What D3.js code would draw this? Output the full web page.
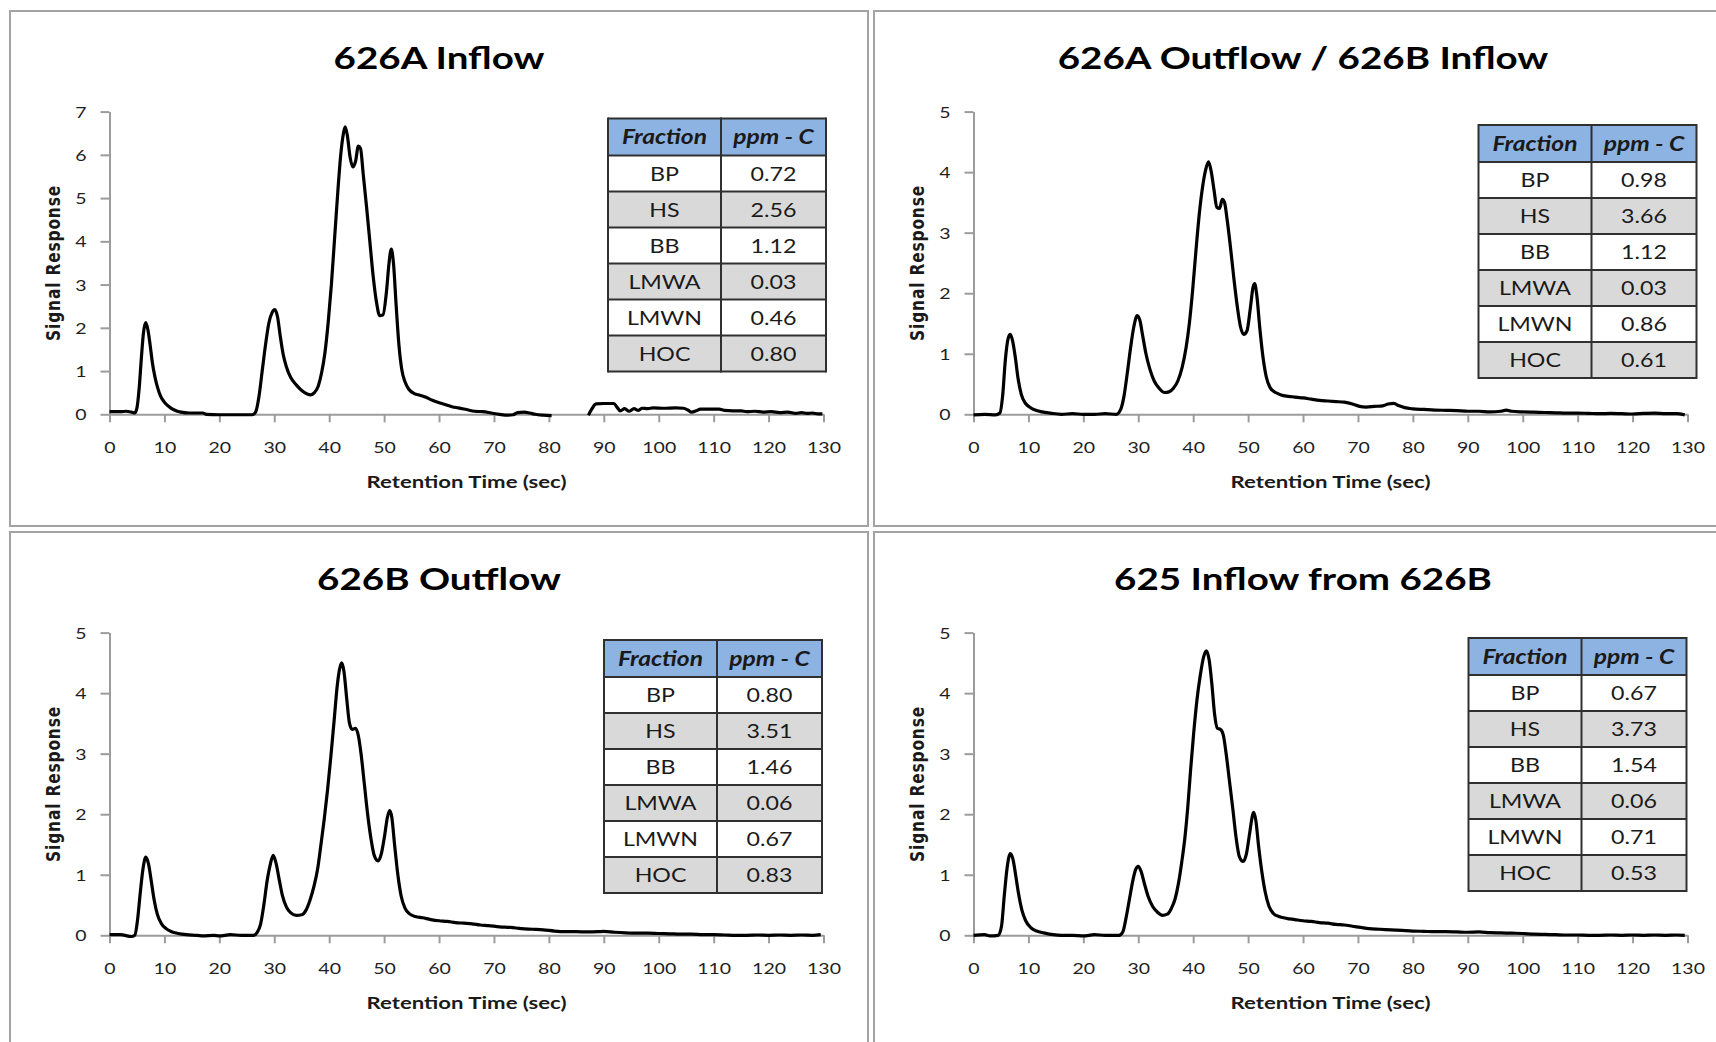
<!DOCTYPE html>
<html>
<head>
<meta charset="utf-8">
<script src="https://cdn.jsdelivr.net/npm/d3@7"></script>
<style>
  html, body { margin: 0; padding: 0; background: #fff; }
  svg { display: block; }
</style>
</head>
<body>
<svg id="chart" width="1716" height="1042"></svg>
<script>
// ---- Chromatogram traces: [retention time (sec), signal response] ----
// null marks a break in the recorded trace.
const inflow626A = [
  [0,0.06],[1,0.06],[2,0.06],[3,0.07],[4,0.05],[4.6,0.03],[5,0.15],[5.4,0.6],[5.8,1.3],[6.2,1.9],
  [6.6,2.12],[7.0,1.95],[7.4,1.6],[7.8,1.2],[8.3,0.85],[8.8,0.6],[9.3,0.42],[10,0.28],[10.8,0.18],
  [11.8,0.1],[13,0.05],[14.5,0.03],[17,0.03],[17.6,0.0],[20,-0.01],[23,-0.01],[26,-0.01],[26.6,0.05],
  [27.2,0.4],[27.8,1.0],[28.4,1.6],[29.0,2.1],[29.6,2.35],[30.1,2.42],[30.6,2.25],[31.1,1.8],[31.6,1.4],
  [32.2,1.1],[33,0.85],[34,0.68],[35,0.55],[36,0.47],[36.6,0.45],[37.3,0.5],[38,0.65],[38.6,0.95],
  [39.2,1.4],[39.8,2.1],[40.4,3.0],[41,4.1],[41.6,5.2],[42.1,6.0],[42.6,6.5],[42.9,6.65],[43.3,6.45],
  [43.8,5.95],[44.3,5.72],[44.8,5.85],[45.3,6.2],[45.7,6.15],[46.2,5.55],[46.8,4.8],[47.4,4.0],[48,3.2],
  [48.6,2.6],[49.2,2.28],[49.8,2.3],[50.4,2.8],[50.9,3.5],[51.3,3.82],[51.7,3.5],[52.2,2.5],[52.7,1.6],
  [53.2,1.05],[53.8,0.75],[54.5,0.58],[55.5,0.48],[56.5,0.44],[57.5,0.4],[58.5,0.34],[59.5,0.29],
  [60.5,0.25],[61.5,0.21],[62.5,0.17],[63.5,0.15],[65,0.11],[66.5,0.07],[68,0.06],[69.5,0.03],[71,0.0],
  [72.5,-0.02],[73.5,-0.01],[74.3,0.04],[75.5,0.05],[76.5,0.03],[77.5,0.0],[79,-0.02],[80.5,-0.03],
  [84,null],
  [87.2,-0.02],[87.8,0.12],[88.6,0.24],[90,0.25],[91.8,0.25],[92.5,0.15],[93,0.08],[93.8,0.13],
  [94.6,0.07],[95.5,0.13],[96.3,0.09],[97,0.14],[98,0.13],[99,0.15],[101,0.14],[103,0.15],[104.5,0.14],
  [105.3,0.1],[106,0.05],[106.8,0.08],[107.6,0.12],[109,0.12],[111,0.12],[112,0.09],[113.5,0.08],
  [115,0.08],[116,0.06],[117.5,0.07],[119,0.05],[120.5,0.06],[122,0.04],[123.5,0.05],[125,0.02],
  [126,0.04],[127,0.02],[128,0.03],[129,0.01],[129.8,0.01]
];

const outflow626A = [
  [0,-0.01],[2,0.0],[4,-0.01],[4.8,0.02],[5.3,0.3],[5.8,0.9],[6.3,1.25],[6.7,1.32],[7.1,1.22],[7.6,0.95],
  [8.1,0.6],[8.7,0.33],[9.4,0.19],[10.2,0.12],[11.2,0.07],[12.5,0.04],[14,0.02],[16,0.0],[18,0.01],
  [20,0.0],[22,0.0],[24,0.01],[26,0.0],[26.8,0.08],[27.4,0.3],[28,0.68],[28.6,1.1],[29.2,1.45],
  [29.8,1.63],[30.3,1.55],[30.8,1.3],[31.4,1.0],[32.1,0.75],[32.9,0.55],[33.8,0.43],[34.8,0.36],
  [35.6,0.37],[36.4,0.43],[37.2,0.55],[38,0.78],[38.7,1.1],[39.3,1.5],[39.9,2.05],[40.5,2.7],[41.1,3.3],
  [41.7,3.75],[42.3,4.05],[42.8,4.17],[43.3,4.0],[43.8,3.7],[44.3,3.42],[44.8,3.4],[45.3,3.55],
  [45.7,3.5],[46.2,3.2],[46.8,2.75],[47.4,2.25],[48,1.8],[48.6,1.45],[49.2,1.32],[49.8,1.38],[50.4,1.75],
  [50.9,2.1],[51.2,2.16],[51.6,1.95],[52.1,1.45],[52.7,0.95],[53.3,0.62],[54,0.44],[55,0.36],[56,0.32],
  [57,0.3],[58,0.29],[59,0.28],[60,0.27],[61.5,0.25],[63,0.23],[64.5,0.22],[66,0.21],[67.5,0.2],
  [69,0.17],[70.3,0.13],[71.5,0.12],[73,0.13],[74.5,0.14],[75.5,0.17],[76.5,0.18],[77.5,0.14],
  [78.5,0.11],[80,0.09],[82,0.08],[84,0.07],[86,0.065],[88,0.06],[90,0.05],[92,0.05],[94,0.04],
  [96,0.05],[97,0.07],[98,0.05],[100,0.04],[102,0.035],[104,0.03],[106,0.025],[108,0.02],[110,0.02],
  [112,0.015],[114,0.01],[116,0.015],[118,0.01],[120,0.005],[122,0.015],[124,0.02],[126,0.01],
  [128,0.01],[129.5,-0.01]
];

const outflow626B = [
  [0,0.01],[2,0.01],[4,-0.02],[4.6,0.0],[5.1,0.25],[5.6,0.7],[6.1,1.1],[6.6,1.29],[7.1,1.18],[7.6,0.9],
  [8.1,0.6],[8.7,0.35],[9.4,0.2],[10.3,0.11],[11.3,0.06],[12.5,0.03],[14,0.01],[16,0.0],[17,-0.01],
  [19,0.0],[20,-0.01],[22,0.01],[24,0.0],[26.2,0.0],[26.9,0.05],[27.5,0.18],[28.1,0.5],[28.7,0.9],
  [29.3,1.18],[29.8,1.32],[30.3,1.2],[30.9,0.92],[31.5,0.65],[32.2,0.47],[33,0.37],[34,0.33],[35,0.34],
  [35.8,0.42],[36.5,0.58],[37.2,0.8],[37.9,1.1],[38.5,1.5],[39.1,1.92],[39.7,2.4],[40.3,2.95],
  [40.9,3.55],[41.5,4.15],[41.9,4.4],[42.3,4.5],[42.7,4.35],[43.2,3.9],[43.7,3.5],[44.2,3.4],
  [44.8,3.42],[45.3,3.3],[45.8,3.0],[46.4,2.5],[47,2.0],[47.6,1.6],[48.2,1.32],[48.9,1.23],[49.5,1.35],
  [50.1,1.65],[50.6,1.95],[51,2.06],[51.4,1.95],[51.9,1.5],[52.5,1.0],[53.1,0.65],[53.8,0.45],
  [54.7,0.35],[55.7,0.31],[57,0.29],[58.5,0.26],[60,0.24],[61.5,0.23],[63,0.21],[64.5,0.2],[66,0.19],
  [67.5,0.17],[69,0.16],[71,0.14],[73,0.13],[75,0.11],[77,0.1],[79,0.09],[81,0.07],[83,0.06],
  [85,0.06],[87,0.055],[89,0.06],[90,0.065],[92,0.05],[94,0.04],[96,0.035],[98,0.035],[100,0.03],
  [102,0.025],[104,0.02],[106,0.02],[108,0.01],[110,0.01],[112,0.005],[114,0.0],[116,0.0],[118,0.005],
  [120,0.0],[122,0.005],[124,0.0],[126,0.005],[128,0.0],[129.5,0.01]
];

const inflow625 = [
  [0,0.0],[2,0.01],[3,-0.01],[4.5,0.0],[5.1,0.15],[5.6,0.65],[6.1,1.1],[6.7,1.35],[7.2,1.25],[7.7,0.98],
  [8.2,0.69],[8.8,0.42],[9.5,0.24],[10.5,0.12],[11.5,0.07],[12.8,0.04],[14.5,0.01],[16,0.0],[18,0.0],
  [20,-0.01],[22,0.01],[24,0.0],[26.5,0.0],[27.2,0.06],[27.8,0.3],[28.4,0.6],[29,0.9],[29.5,1.08],
  [30,1.14],[30.5,1.06],[31.1,0.86],[31.8,0.64],[32.6,0.48],[33.5,0.38],[34.4,0.33],[35.3,0.35],
  [36,0.44],[36.7,0.6],[37.3,0.85],[37.9,1.2],[38.5,1.62],[39,2.1],[39.5,2.7],[40.1,3.35],[40.7,3.9],
  [41.3,4.3],[41.9,4.6],[42.4,4.7],[42.9,4.55],[43.4,4.15],[43.9,3.65],[44.4,3.42],[45,3.4],[45.5,3.3],
  [46,3.0],[46.6,2.55],[47.2,2.1],[47.8,1.62],[48.4,1.3],[49.1,1.22],[49.7,1.35],[50.3,1.7],[50.8,1.98],
  [51,2.03],[51.4,1.9],[51.9,1.48],[52.5,1.05],[53.1,0.72],[53.8,0.48],[54.6,0.36],[55.6,0.31],
  [57,0.28],[58.5,0.26],[60,0.24],[61.5,0.23],[63,0.21],[64.5,0.2],[66,0.18],[67.5,0.17],[69,0.15],
  [70.5,0.13],[72,0.11],[74,0.1],[76,0.09],[78,0.08],[80,0.07],[82,0.065],[84,0.06],[86,0.06],
  [88,0.055],[90,0.05],[92,0.055],[94,0.045],[96,0.04],[98,0.035],[100,0.03],[102,0.02],[104,0.015],
  [106,0.01],[108,0.005],[110,0.005],[112,0.0],[114,0.0],[116,0.005],[118,0.0],[120,0.005],[122,0.0],
  [124,0.005],[126,0.0],[128,0.005],[129.5,0.0]
];

// ---- Fraction tables (ppm - C) ----
const fractions = ["BP", "HS", "BB", "LMWA", "LMWN", "HOC"];
const ppmInflow626A  = ["0.72", "2.56", "1.12", "0.03", "0.46", "0.80"];
const ppmOutflow626A = ["0.98", "3.66", "1.12", "0.03", "0.86", "0.61"];
const ppmOutflow626B = ["0.80", "3.51", "1.46", "0.06", "0.67", "0.83"];
const ppmInflow625   = ["0.67", "3.73", "1.54", "0.06", "0.71", "0.53"];

const titles = ["626A Inflow", "626A Outflow / 626B Inflow", "626B Outflow", "625 Inflow from 626B"];
const yMaxima = [7, 5, 5, 5];
const xTickValues = d3.range(0, 131, 10);
const xLabel = "Retention Time (sec)";
const yLabel = "Signal Response";
const tableHeader = ["Fraction", "ppm - C"];

// ---- Layout ----
const panelOrigins = [[10, 11], [874, 11], [10, 532], [874, 532]];
const tableOrigins = [[598, 107.5], [604.5, 114], [594, 108], [594.5, 106]];
const PANEL_W = 858, PANEL_H = 515;
const plot = { left: 99.5, right: 813.5, top: 100.6, bottom: 403.3 };
const SX = 1.26;           // horizontal stretch applied to all lettering
const colW = [113, 105], headH = 37, rowH = 36;

const series = [inflow626A, outflow626A, outflow626B, inflow625];
const ppm = [ppmInflow626A, ppmOutflow626A, ppmOutflow626B, ppmInflow625];

const svg = d3.select("#chart");
svg.append("rect").attr("width", 1716).attr("height", 1042).attr("fill", "#fff");

function stretched(sel, x, y, sx) {
  return sel.attr("transform", `translate(${x},${y}) scale(${sx},1)`);
}

titles.forEach((title, i) => {
  const [ox, oy] = panelOrigins[i];
  const g = svg.append("g").attr("transform", `translate(${ox},${oy})`);

  // panel frame
  g.append("rect")
    .attr("x", 0).attr("y", 0).attr("width", PANEL_W).attr("height", PANEL_H)
    .attr("fill", "#fff").attr("stroke", "#a3a3a3").attr("stroke-width", 2);

  const x = d3.scaleLinear().domain([0, 130]).range([plot.left, plot.right]);
  const y = d3.scaleLinear().domain([0, yMaxima[i]]).range([plot.bottom, plot.top]);

  // title
  stretched(g.append("text"), PANEL_W / 2, 58, SX)
    .attr("text-anchor", "middle")
    .attr("font-family", "Lato, 'Open Sans', sans-serif")
    .attr("font-weight", 700).attr("font-size", 30.6)
    .attr("fill", "#000")
    .text(title);

  // axes
  const xAxis = d3.axisBottom(x).tickValues(xTickValues).tickSizeInner(8).tickSizeOuter(0).tickPadding(0);
  const yAxis = d3.axisLeft(y).ticks(yMaxima[i]).tickFormat(d3.format("d")).tickSizeInner(9).tickSizeOuter(0);

  const gx = g.append("g").attr("transform", `translate(0,${plot.bottom})`).call(xAxis);
  const gy = g.append("g").attr("transform", `translate(${plot.left},0)`).call(yAxis);

  [gx, gy].forEach(ax => {
    ax.select(".domain").attr("stroke", "#9c9c9c").attr("stroke-width", 2);
    ax.selectAll(".tick line").attr("stroke", "#9c9c9c").attr("stroke-width", 2);
    ax.selectAll(".tick text")
      .attr("font-family", "Lato, 'Open Sans', sans-serif")
      .attr("font-size", 15.5).attr("fill", "#1f1f1f");
  });
  gx.selectAll(".tick text")
    .attr("y", 0).attr("dy", 0)
    .attr("transform", `translate(0,38.8) scale(${SX},1)`);
  gy.selectAll(".tick text")
    .attr("x", 0).attr("dy", "0.36em")
    .attr("transform", `translate(-23,0) scale(${SX},1)`);

  // axis titles
  stretched(g.append("text"), (plot.left + plot.right) / 2, 477, SX)
    .attr("text-anchor", "middle")
    .attr("font-family", "Lato, 'Open Sans', sans-serif")
    .attr("font-weight", 700).attr("font-size", 17.6).attr("fill", "#1a1a1a")
    .text(xLabel);

  g.append("text")
    .attr("transform", `translate(50,${(plot.top + plot.bottom) / 2}) scale(${SX},1) rotate(-90)`)
    .attr("text-anchor", "middle")
    .attr("font-family", "'DejaVu Sans', sans-serif")
    .attr("font-weight", 700).attr("font-size", 15.5).attr("letter-spacing", 0.8)
    .attr("fill", "#1a1a1a")
    .text(yLabel);

  // trace
  const line = d3.line()
    .defined(d => d[1] !== null)
    .x(d => x(d[0])).y(d => y(d[1]))
    .curve(d3.curveMonotoneX);
  g.append("path")
    .datum(series[i])
    .attr("d", line)
    .attr("fill", "none").attr("stroke", "#000")
    .attr("stroke-width", 3.2).attr("stroke-linejoin", "round");

  // fraction table
  const [tx, ty] = tableOrigins[i];
  const tg = g.append("g").attr("transform", `translate(${tx},${ty})`);
  const totalW = colW[0] + colW[1];
  const rows = fractions.map((f, r) => [f, ppm[i][r]]);

  tg.append("rect").attr("x", 0).attr("y", 0).attr("width", totalW).attr("height", headH)
    .attr("fill", "#8db3e2");
  rows.forEach((row, r) => {
    tg.append("rect")
      .attr("x", 0).attr("y", headH + r * rowH).attr("width", totalW).attr("height", rowH)
      .attr("fill", r % 2 === 0 ? "#ffffff" : "#d9d9d9");
  });

  const cellCx = [colW[0] / 2, colW[0] + colW[1] / 2];
  tableHeader.forEach((h, c) => {
    stretched(tg.append("text"), cellCx[c], headH / 2 + 7.2, 1.2)
      .attr("text-anchor", "middle")
      .attr("font-family", "Lato, 'Open Sans', sans-serif")
      .attr("font-weight", 700).attr("font-style", "italic").attr("font-size", 20.5)
      .attr("fill", "#1a1a1a")
      .text(h);
  });
  rows.forEach((row, r) => {
    row.forEach((v, c) => {
      stretched(tg.append("text"), cellCx[c], headH + r * rowH + rowH / 2 + 7.2, 1.16)
        .attr("text-anchor", "middle")
        .attr("font-family", "Lato, 'Open Sans', sans-serif")
        .attr("font-size", 20).attr("fill", "#1a1a1a")
        .text(v);
    });
  });

  // grid lines of the table
  const hLines = [0, headH].concat(rows.map((_, r) => headH + (r + 1) * rowH));
  hLines.forEach(yy => {
    tg.append("line").attr("x1", 0).attr("x2", totalW).attr("y1", yy).attr("y2", yy)
      .attr("stroke", "#303030").attr("stroke-width", 2);
  });
  const tableH = headH + rows.length * rowH;
  [0, colW[0], totalW].forEach(xx => {
    tg.append("line").attr("x1", xx).attr("x2", xx).attr("y1", -1).attr("y2", tableH + 1)
      .attr("stroke", "#303030").attr("stroke-width", 2);
  });
});
</script>
</body>
</html>
